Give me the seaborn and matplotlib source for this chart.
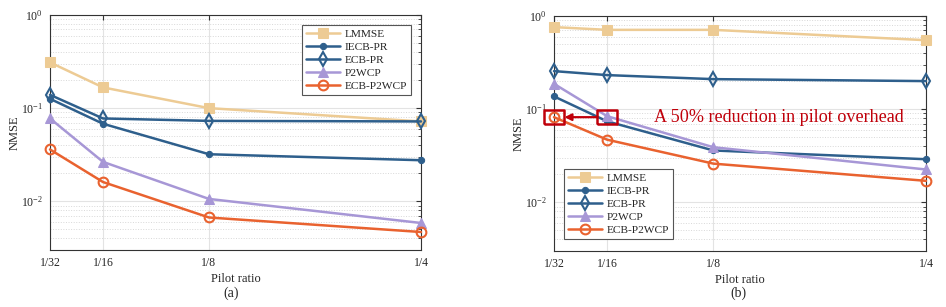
import numpy as np
import pandas as pd
import matplotlib
matplotlib.use("Agg")
import matplotlib.pyplot as plt
import seaborn as sns
from matplotlib.ticker import FixedLocator, FixedFormatter, LogLocator, NullFormatter

# x positions (pilot ratio) and their labels
ratios = [1/32, 1/16, 1/8, 1/4]
ratio_labels = ["1/32", "1/16", "1/8", "1/4"]
methods = ["LMMSE", "IECB-PR", "ECB-PR", "P2WCP", "ECB-P2WCP"]

# panel (a)
lmmse_a = [0.31, 0.167, 0.100, 0.072]
iecb_a = [0.126, 0.068, 0.032, 0.0276]
ecb_a = [0.139, 0.0775, 0.073, 0.072]
p2wcp_a = [0.0775, 0.0265, 0.0106, 0.00585]
ecb_p2wcp_a = [0.036, 0.0161, 0.0067, 0.00468]

# panel (b)
lmmse_b = [0.76, 0.71, 0.71, 0.55]
iecb_b = [0.137, 0.074, 0.036, 0.029]
ecb_b = [0.256, 0.232, 0.21, 0.20]
p2wcp_b = [0.187, 0.084, 0.039, 0.0225]
ecb_p2wcp_b = [0.082, 0.047, 0.026, 0.017]

colors = {"LMMSE": "#EDCB94", "IECB-PR": "#2E5F8C", "ECB-PR": "#2E5F8C",
          "P2WCP": "#A797D6", "ECB-P2WCP": "#E9622F"}
styles = {"LMMSE": dict(marker="s", markersize=6.5),
          "IECB-PR": dict(marker="o", markersize=4.5),
          "ECB-PR": dict(marker="d", markersize=7, markerfacecolor="none", markeredgewidth=1.5),
          "P2WCP": dict(marker="^", markersize=7.5),
          "ECB-P2WCP": dict(marker="o", markersize=7, markerfacecolor="none", markeredgewidth=1.5)}

sns.set_style("white")
plt.rcParams["font.family"] = ["Liberation Serif", "DejaVu Serif"]
plt.rcParams["mathtext.fontset"] = "stix"
plt.rcParams["font.size"] = 8.5


def make_df(series):
    rows = []
    for name, vals in zip(methods, series):
        for r, v in zip(ratios, vals):
            rows.append({"ratio": r, "nmse": v, "method": name})
    return pd.DataFrame(rows)


def draw_panel(ax, df, legend_loc, legend_anchor):
    for name in methods:
        sub = df[df["method"] == name]
        sns.lineplot(data=sub, x="ratio", y="nmse", ax=ax, color=colors[name],
                     linewidth=1.8, label=name, markeredgecolor=colors[name],
                     clip_on=False, zorder=3, **styles[name])
    ax.set_yscale("log")
    ax.set_ylim(3e-3, 1)
    ax.set_xlim(ratios[0], ratios[-1])
    ax.xaxis.set_major_locator(FixedLocator(ratios))
    ax.xaxis.set_major_formatter(FixedFormatter(ratio_labels))
    ax.yaxis.set_major_locator(LogLocator(base=10, numticks=10))
    ax.yaxis.set_minor_locator(LogLocator(base=10, subs=np.arange(2, 10), numticks=10))
    ax.yaxis.set_minor_formatter(NullFormatter())
    ax.grid(True, which="major", color="#e3e3e3", linewidth=0.8)
    ax.grid(True, which="minor", axis="y", color="#d8d8d8", linestyle=":", linewidth=0.7)
    ax.tick_params(which="both", direction="in", top=True, right=True, color="#333333",
                   labelsize=8.5, pad=5)
    ax.tick_params(which="major", length=3.5)
    ax.tick_params(which="minor", length=2)
    for s in ax.spines.values():
        s.set_color("#333333")
        s.set_linewidth(0.8)
    ax.set_xlabel("Pilot ratio", fontsize=9, labelpad=3)
    ax.set_ylabel("NMSE", fontsize=9, labelpad=0)
    leg = ax.legend(loc=legend_loc, bbox_to_anchor=legend_anchor, fancybox=False,
                    framealpha=1, edgecolor="#555555", fontsize=8.2, handlelength=3.0,
                    borderpad=0.35, labelspacing=0.27, handletextpad=0.4,
                    borderaxespad=0)
    leg.get_frame().set_linewidth(0.8)
    leg.set_zorder(6)


fig = plt.figure(figsize=(9.46, 3.07), dpi=100)
ax_a = fig.add_axes([50 / 946, 57 / 307, 371 / 946, 235 / 307])
ax_b = fig.add_axes([554 / 946, 56 / 307, 372 / 946, 235 / 307])

df_a = make_df([lmmse_a, iecb_a, ecb_a, p2wcp_a, ecb_p2wcp_a])
df_b = make_df([lmmse_b, iecb_b, ecb_b, p2wcp_b, ecb_p2wcp_b])

draw_panel(ax_a, df_a, "upper right", (0.973, 0.957))
draw_panel(ax_b, df_b, "lower left", (0.027, 0.05))

# annotation in panel (b)
red = "#C0000A"
box = [(-1, -0.7), (1, -0.7), (1, 0.7), (-1, 0.7), (-1, -0.7)]
y_ann = ecb_p2wcp_b[0]
ax_b.plot([ratios[0], ratios[1]], [y_ann, y_ann], linestyle="none", marker=box,
          markersize=14.5, markerfacecolor="none", markeredgecolor=red,
          markeredgewidth=1.8, clip_on=False, zorder=5)
ax_b.annotate("", xy=(ratios[0], y_ann), xytext=(ratios[1], y_ann),
              arrowprops=dict(arrowstyle="-|>", color=red, lw=1.6,
                              shrinkA=7.5, shrinkB=7.5, mutation_scale=10),
              zorder=5)
ax_b.text(0.0900, y_ann, "A 50% reduction in pilot overhead", color=red,
          fontsize=13.1, va="center", ha="left")

fig.text(231 / 946, 1 - 293 / 307, "(a)", ha="center", va="center", fontsize=10)
fig.text(738 / 946, 1 - 293 / 307, "(b)", ha="center", va="center", fontsize=10)

fig.savefig("out.png", dpi=100)
